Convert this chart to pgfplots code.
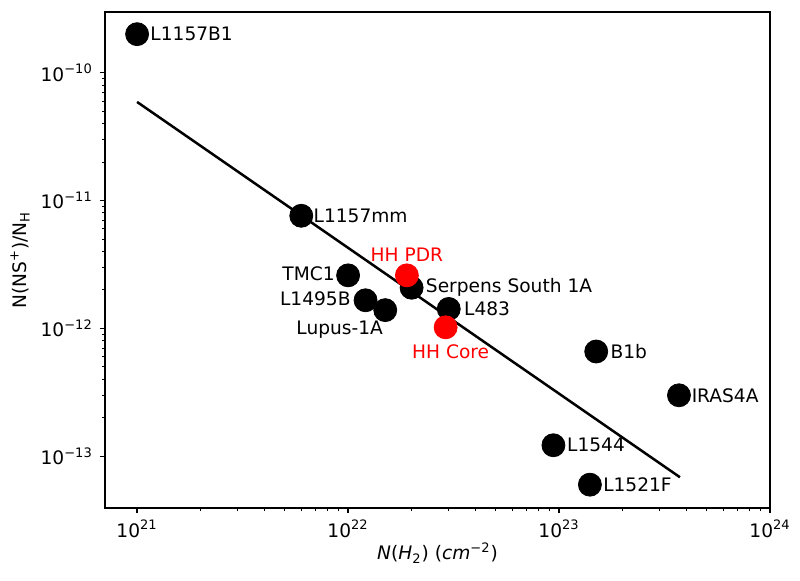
\documentclass[border=0pt]{standalone}
\usepackage{fontspec}
\setmainfont{DejaVu Sans}
\usepackage{pgfplots}
\pgfplotsset{compat=1.18}

\pgfplotstableread{
x y
1e21    2.0e-10
6.0e21  7.6e-12
1.0e22  2.6e-12
1.21e22 1.66e-12
1.5e22  1.39e-12
2.0e22  2.08e-12
3.0e22  1.42e-12
1.5e23  6.6e-13
3.7e23  3.0e-13
9.4e22  1.22e-13
1.4e23  6.0e-14
}\blackpts

\pgfplotstableread{
x y
1.9e22 2.6e-12
2.9e22 1.02e-12
}\redpts

\begin{document}
\begin{tikzpicture}[font=\fontsize{9.3}{11}\selectfont]
\begin{axis}[
    scale only axis,
    width=332.5pt, height=248pt,
    xmode=log, ymode=log,
    xmin=7.05e20, xmax=1e24,
    ymin=3.94e-14, ymax=2.98e-10,
    axis line style={line width=0.7pt},
    tick align=outside, tick pos=left,
    major tick length=2.6pt, minor tick length=1.5pt,
    every tick/.style={black, line width=0.6pt},
    every minor tick/.style={black, line width=0.45pt},
    xtick={1e21,1e22,1e23,1e24},
    xticklabels={10\textsuperscript{21},10\textsuperscript{22},10\textsuperscript{23},10\textsuperscript{24}},
    ytick={1e-13,1e-12,1e-11,1e-10},
    yticklabels={10\textsuperscript{−13},10\textsuperscript{−12},10\textsuperscript{−11},10\textsuperscript{−10}},
    xlabel={\textit{N}(\textit{H}\textsubscript{2}) (\textit{cm}\textsuperscript{−2})},
    ylabel={N(NS\textsuperscript{+})/N\textsubscript{H}},
    every axis x label/.style={at={([yshift=-22.5pt]axis description cs:0.5,0)}, anchor=center},
    every axis y label/.style={at={([xshift=-42.5pt]axis description cs:0,0.5)}, anchor=center, rotate=90},
    clip=false,
]
\coordinate (bl) at (rel axis cs:0,0);
\coordinate (tr) at (rel axis cs:1,1);
\addplot[black, line width=1.25pt, no marks] coordinates {(1e21,5.9e-11) (3.74e23,6.86e-14)};
\addplot[only marks, mark=*, mark size=5.75pt, black, mark options={fill=black, draw=black}] table {\blackpts};
\addplot[only marks, mark=*, mark size=5.75pt, red, mark options={fill=red, draw=red}] table {\redpts};

\begin{scope}[every node/.style={inner sep=0pt}]
\node[anchor=west, xshift=6.5pt] at (axis cs:1e21,2.0e-10) {L1157B1};
\node[anchor=west, xshift=6pt] at (axis cs:6.0e21,7.6e-12) {L1157mm};
\node[anchor=east, xshift=-6.5pt, yshift=1pt] at (axis cs:1.0e22,2.6e-12) {TMC1};
\node[anchor=east, xshift=-7.3pt, yshift=1pt] at (axis cs:1.21e22,1.66e-12) {L1495B};
\node[anchor=north east, xshift=-1pt, yshift=-5.4pt] at (axis cs:1.5e22,1.39e-12) {Lupus-1A};
\node[anchor=west, xshift=7pt] at (axis cs:2.0e22,2.08e-12) {Serpens South 1A};
\node[anchor=west, xshift=7.5pt] at (axis cs:3.0e22,1.42e-12) {L483};
\node[anchor=west, xshift=7pt] at (axis cs:1.5e23,6.6e-13) {B1b};
\node[anchor=west, xshift=6.2pt] at (axis cs:3.7e23,3.0e-13) {IRAS4A};
\node[anchor=west, xshift=6.7pt] at (axis cs:9.4e22,1.22e-13) {L1544};
\node[anchor=west, xshift=6.5pt] at (axis cs:1.4e23,6.0e-14) {L1521F};
\node[anchor=base, red, yshift=6.75pt] at (axis cs:1.9e22,2.6e-12) {HH PDR};
\node[anchor=base, red, xshift=2.5pt, yshift=-15.5pt] at (axis cs:2.9e22,1.02e-12) {HH Core};
\end{scope}
\end{axis}
\path ([shift={(-52.5pt,-36pt)}]bl) rectangle ([shift={(15pt,6pt)}]tr);
\end{tikzpicture}
\end{document}
